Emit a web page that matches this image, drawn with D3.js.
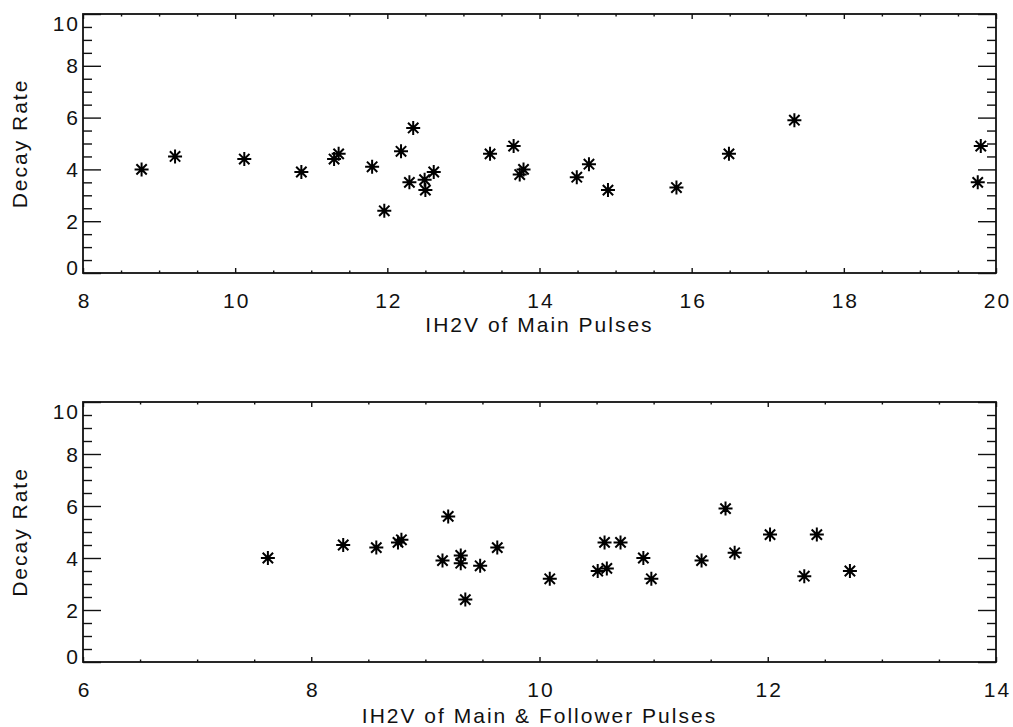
<!DOCTYPE html>
<html>
<head>
<meta charset="utf-8">
<script src="https://cdn.jsdelivr.net/npm/d3@7"></script>
<style>
    body { margin: 0; background: #fff; }
    text { font-family: "Liberation Sans", Arial, sans-serif; font-size: 21px; letter-spacing: 2px; fill: #111; }
    .tick line { stroke: #111; stroke-width: 1.4; }
</style>
</head>
<body>
<div id="chart"></div>
<script>
// data
var mainPulses = [8.77, 9.21, 10.12, 10.87, 11.30, 11.36, 11.80, 11.96, 12.18, 12.34, 12.29, 12.49, 12.50, 12.61,
    13.35, 13.66, 13.74, 13.79, 14.49, 14.65, 14.90, 15.80, 16.49, 17.35, 19.76, 19.80];
var mainRate = [4.0, 4.5, 4.4, 3.9, 4.4, 4.6, 4.1, 2.4, 4.7, 5.6, 3.5, 3.6, 3.2, 3.9,
    4.6, 4.9, 3.8, 4.0, 3.7, 4.2, 3.2, 3.3, 4.6, 5.9, 3.5, 4.9];

var followerPulses = [7.62, 8.28, 8.57, 8.76, 8.79, 9.20, 9.15, 9.31, 9.31, 9.35, 9.48, 9.63, 10.09,
    10.51, 10.59, 10.57, 10.71, 10.91, 10.98, 11.42, 11.63, 11.71, 12.02, 12.43, 12.32, 12.72];
var followerRate = [4.0, 4.5, 4.4, 4.6, 4.7, 5.6, 3.9, 4.1, 3.8, 2.4, 3.7, 4.4, 3.2,
    3.5, 3.6, 4.6, 4.6, 4.0, 3.2, 3.9, 5.9, 4.2, 4.9, 4.9, 3.3, 3.5];

var rateTicks = [0, 2, 4, 6, 8, 10];
var mainTicks = [8, 10, 12, 14, 16, 18, 20];
var followerTicks = [6, 8, 10, 12, 14];

var svg = d3.select("#chart")
    .append("svg")
    .attr("width", 1013)
    .attr("height", 727);

makePanel({
    top: 14, height: 259,
    xs: mainPulses, ys: mainRate, xTicks: mainTicks,
    xLabel: "IH2V of Main Pulses", titleGap: 59
});

makePanel({
    top: 402, height: 260,
    xs: followerPulses, ys: followerRate, xTicks: followerTicks,
    xLabel: "IH2V of Main & Follower Pulses", titleGap: 61
});

function makePanel(p) {
    var left = 83, width = 913;

    var g = svg.append("g")
        .attr("transform", `translate(${left}, ${p.top})`);

    // scales
    var xDomain = d3.extent(p.xTicks);
    var xScale = d3.scaleLinear().domain(xDomain).range([0, width]);
    var yScale = d3.scaleLinear().domain([0, 10]).range([p.height, 0]);

    // minor ticks every 0.5
    var xMinor = d3.range(xDomain[0], xDomain[1] + 0.01, 0.5).filter(v => v % 2 != 0);
    var yMinor = d3.range(0, 10.01, 0.5).filter(v => v % 2 != 0);

    function axis(maker, scale, values, size, fmt, transform) {
        var ax = g.append("g")
            .attr("transform", transform)
            .call(maker(scale).tickValues(values).tickSize(-size).tickFormat(fmt).tickPadding(3));
        ax.select(".domain").remove();
        return ax;
    }

    // left / right axes (ticks point inward)
    var leftAx = axis(d3.axisLeft, yScale, rateTicks, 18, d3.format("d"), "translate(0,0)");
    leftAx.selectAll("text")
        .attr("x", -3)
        .attr("dy", d => d == 10 ? "0.8em" : d == 0 ? "0.05em" : "0.34em");
    axis(d3.axisLeft, yScale, yMinor, 9, "", "translate(0,0)");
    axis(d3.axisRight, yScale, rateTicks, 18, "", `translate(${width},0)`);
    axis(d3.axisRight, yScale, yMinor, 9, "", `translate(${width},0)`);

    // bottom / top axes
    var bottomAx = axis(d3.axisBottom, xScale, p.xTicks, 5, d3.format("d"), `translate(0,${p.height})`);
    bottomAx.selectAll("text").attr("y", 20).attr("dx", "1px");
    axis(d3.axisBottom, xScale, xMinor, 2.5, "", `translate(0,${p.height})`);
    axis(d3.axisTop, xScale, p.xTicks, 5, "", "translate(0,0)");
    axis(d3.axisTop, xScale, xMinor, 2.5, "", "translate(0,0)");

    g.selectAll(".tick text").attr("fill", "#111");

    // frame
    g.append("rect")
        .attr("width", width)
        .attr("height", p.height)
        .attr("fill", "none")
        .attr("stroke", "#111")
        .attr("stroke-width", 1.8);

    // asterisk markers
    var pts = p.xs.map((x, i) => ({ x: x, y: p.ys[i] }));
    var arm = 7, d = arm * 0.74;
    var star = `M${-arm},0H${arm}M0,${-arm}V${arm}M${-d},${-d}L${d},${d}M${-d},${d}L${d},${-d}`;

    g.selectAll("path.star")
        .data(pts)
        .enter()
        .append("path")
        .attr("class", "star")
        .attr("d", star)
        .attr("transform", d => `translate(${xScale(d.x)}, ${yScale(d.y)})`)
        .attr("fill", "none")
        .attr("stroke", "#000")
        .attr("stroke-width", 2);

    // axis labels
    g.append("text")
        .attr("x", width / 2)
        .attr("y", p.height + p.titleGap)
        .attr("text-anchor", "middle")
        .text(p.xLabel);

    g.append("text")
        .attr("transform", "rotate(-90)")
        .attr("x", -p.height / 2)
        .attr("y", 27 - left)
        .attr("text-anchor", "middle")
        .text("Decay Rate");
}
</script>
</body>
</html>
